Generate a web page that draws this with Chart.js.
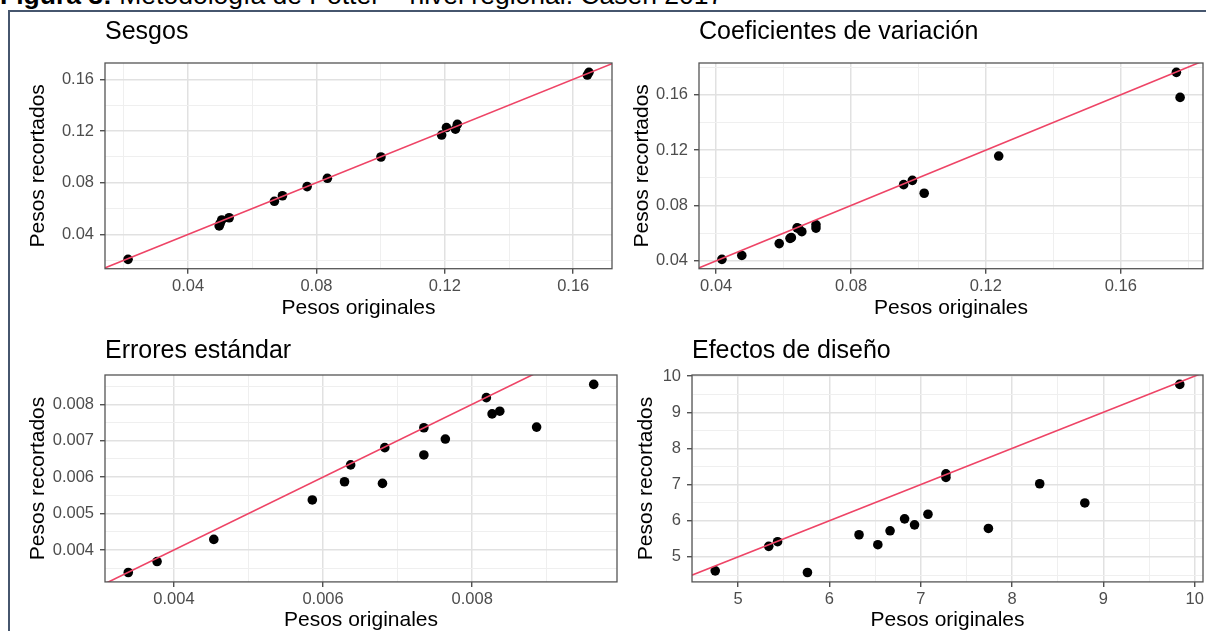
<!DOCTYPE html>
<html>
<head>
<meta charset="utf-8">
<script src="https://cdn.jsdelivr.net/npm/chart.js@4.4.1/dist/chart.umd.min.js"></script>
<style>
  html, body { margin: 0; padding: 0; background: #fff; overflow: hidden; width: 1206px; height: 631px; position: relative; }
  #caption { position: absolute; left: 0; top: -20px; font-family: "Liberation Sans", Arial, sans-serif; font-size: 26.5px; white-space: nowrap; color: #000; }
  #frame { position: absolute; left: 8px; top: 10px; width: 1220px; height: 640px; border-top: 2px solid #46566e; border-left: 2px solid #46566e; }
  canvas { position: absolute; }
</style>
</head>
<body>
<div id="caption"><b>Figura 3:</b> Metodología de Potter – nivel regional. Casen 2017</div>
<div id="frame"></div>
<canvas id="sesgos"></canvas>
<canvas id="cv"></canvas>
<canvas id="se"></canvas>
<canvas id="deff"></canvas>
<script>
// Datos: pesos originales (x) y pesos recortados (y) por region
const sesgosOriginal = [0.0213, 0.0497, 0.0500, 0.0505, 0.0528, 0.0669, 0.0694, 0.0771, 0.0834, 0.1001, 0.1190, 0.1205, 0.1233, 0.1239, 0.1644, 0.1649];
const sesgosRecortado = [0.0207, 0.0466, 0.0485, 0.0512, 0.0529, 0.0656, 0.0699, 0.0770, 0.0834, 0.0999, 0.1169, 0.1227, 0.1214, 0.1252, 0.1633, 0.1654];

const cvOriginal = [0.0417, 0.0476, 0.0587, 0.0619, 0.0623, 0.0640, 0.0645, 0.0654, 0.0696, 0.0696, 0.0956, 0.0982, 0.1017, 0.1238, 0.1765, 0.1776];
const cvRecortado = [0.0410, 0.0438, 0.0524, 0.0562, 0.0567, 0.0638, 0.0632, 0.0610, 0.0660, 0.0636, 0.0950, 0.0981, 0.0888, 0.1157, 0.1762, 0.1581];

const seOriginal = [0.003388, 0.003774, 0.004535, 0.005856, 0.006288, 0.006370, 0.006797, 0.006828, 0.007352, 0.007352, 0.007640, 0.008190, 0.008267, 0.008370, 0.008864, 0.009630];
const seRecortado = [0.003382, 0.003682, 0.004291, 0.005373, 0.005873, 0.006336, 0.005827, 0.006809, 0.007355, 0.006609, 0.007045, 0.008182, 0.007736, 0.007809, 0.007373, 0.008545];

const deffOriginal = [4.749, 5.335, 5.432, 5.759, 6.324, 6.530, 6.664, 6.823, 6.932, 7.079, 7.276, 7.276, 7.741, 8.303, 8.797, 9.837];
const deffRecortado = [4.615, 5.293, 5.421, 4.570, 5.614, 5.339, 5.723, 6.053, 5.888, 6.181, 7.299, 7.198, 5.788, 7.024, 6.493, 9.771];

// Pasos de los ticks: [mayor, menor]
const sesgosSteps = [0.04, 0.02];
const cvSteps = [0.04, 0.02];
const seXSteps = [0.002, 0.001];
const seYSteps = [0.001, 0.0005];
const deffSteps = [1, 0.5];

const panelTitles = ['Sesgos', 'Coeficientes de variación', 'Errores estándar', 'Efectos de diseño'];
const xAxisTitle = 'Pesos originales';
const yAxisTitle = 'Pesos recortados';

const FONT = '"Liberation Sans", Arial, sans-serif';
const TITLE_SIZE = 25;
const AXIS_TITLE_SIZE = 21;
const TICK_SIZE = 16.5;

// Rango con expansion del 5% como ggplot
function expand(values) {
    const lo = Math.min(...values);
    const hi = Math.max(...values);
    const pad = (hi - lo) * 0.05;
    return [lo - pad, hi + pad];
}

function isMultiple(v, step) {
    const r = v / step;
    return Math.abs(r - Math.round(r)) < 1e-6;
}

function axisOptions(range, steps, isX, fixedSize) {
    const major = steps[0];
    const minor = steps[1];
    const decimals = Math.max(0, -Math.floor(Math.log10(major) + 1e-9));
    const isMajor = ctx => ctx.tick && isMultiple(ctx.tick.value, major);
    return {
        type: 'linear',
        position: isX ? 'bottom' : 'left',
        min: range[0],
        max: range[1],
        afterFit: scale => {
            if (isX) scale.height = fixedSize; else scale.width = fixedSize;
        },
        ticks: {
            stepSize: minor,
            includeBounds: false,
            autoSkip: false,
            maxRotation: 0,
            minRotation: 0,
            padding: isX ? 3 : 6,
            color: '#4d4d4d',
            font: { family: FONT, size: TICK_SIZE },
            callback: v => isMultiple(v, major) ? v.toFixed(decimals) : ''
        },
        grid: {
            color: ctx => isMajor(ctx) ? '#e1e1e1' : '#efefef',
            lineWidth: ctx => isMajor(ctx) ? 1.5 : 1,
            tickColor: ctx => isMajor(ctx) ? '#333333' : 'rgba(0,0,0,0)',
            tickLength: 5,
            tickWidth: 1.2
        },
        border: { display: false },
        title: {
            display: true,
            text: isX ? xAxisTitle : yAxisTitle,
            color: '#000',
            font: { family: FONT, size: AXIS_TITLE_SIZE, lineHeight: 1.2 },
            padding: 0
        }
    };
}

// Borde del panel (theme_bw)
const panelBorder = {
    id: 'panelBorder',
    afterDraw(chart) {
        const { ctx, chartArea: a } = chart;
        ctx.save();
        ctx.strokeStyle = '#555555';
        ctx.lineWidth = 1.3;
        ctx.strokeRect(a.left, a.top, a.right - a.left, a.bottom - a.top);
        ctx.restore();
    }
};

function makePanel(id, spec, title, xs, ys, xSteps, ySteps) {
    const canvas = document.getElementById(id);
    const axisLh = AXIS_TITLE_SIZE * 1.2;
    const titleLh = TITLE_SIZE * 1.2;
    const cl = Math.round(spec.yTitleCX - axisLh / 2);
    const yW = spec.L - cl;
    const hX = spec.xTitleCY - spec.B + axisLh / 2;
    const padRight = 14;
    const width = spec.R - cl + padRight;
    const height = Math.round(spec.B + hX - spec.ct);
    canvas.width = width;
    canvas.height = height;
    canvas.style.left = cl + 'px';
    canvas.style.top = spec.ct + 'px';
    canvas.style.width = width + 'px';
    canvas.style.height = height + 'px';

    const titlePadTop = spec.titleCY - spec.ct - titleLh / 2;
    const titlePadBottom = spec.T - spec.ct - titlePadTop - titleLh;

    const xRange = expand(xs);
    const yRange = expand(ys);
    const lo = Math.min(xRange[0], yRange[0]);
    const hi = Math.max(xRange[1], yRange[1]);

    return new Chart(canvas, {
        type: 'scatter',
        data: {
            datasets: [{
                type: 'line',
                data: [{ x: lo, y: lo }, { x: hi, y: hi }],
                borderColor: '#ee4466',
                borderWidth: 1.6,
                pointRadius: 0,
                fill: false
            }, {
                data: xs.map((x, i) => ({ x: x, y: ys[i] })),
                backgroundColor: '#000',
                borderWidth: 0,
                pointRadius: 4.8
            }]
        },
        options: {
            responsive: false,
            animation: false,
            layout: { padding: { left: 0, right: padRight, top: 0, bottom: 0 } },
            plugins: {
                legend: { display: false },
                tooltip: { enabled: false },
                title: {
                    display: true,
                    text: title,
                    align: 'start',
                    fullSize: false,
                    color: '#000',
                    font: { family: FONT, size: TITLE_SIZE, weight: 'normal', lineHeight: 1.2 },
                    padding: { top: titlePadTop, bottom: titlePadBottom }
                }
            },
            scales: {
                x: axisOptions(xRange, xSteps, true, hX),
                y: axisOptions(yRange, ySteps, false, yW)
            }
        },
        plugins: [panelBorder]
    });
}

makePanel('sesgos', { L: 105, T: 63, R: 612, B: 269, titleCY: 32.5, yTitleCX: 38.5, xTitleCY: 308.7, ct: 14 },
    panelTitles[0], sesgosOriginal, sesgosRecortado, sesgosSteps, sesgosSteps);
makePanel('cv', { L: 699, T: 63, R: 1203, B: 269, titleCY: 32.5, yTitleCX: 642.5, xTitleCY: 308.7, ct: 14 },
    panelTitles[1], cvOriginal, cvRecortado, cvSteps, cvSteps);
makePanel('se', { L: 105, T: 375, R: 617, B: 582, titleCY: 351.3, yTitleCX: 38.5, xTitleCY: 620.5, ct: 322 },
    panelTitles[2], seOriginal, seRecortado, seXSteps, seYSteps);
makePanel('deff', { L: 692, T: 375, R: 1203, B: 582, titleCY: 351.3, yTitleCX: 647, xTitleCY: 620.5, ct: 322 },
    panelTitles[3], deffOriginal, deffRecortado, deffSteps, deffSteps);
</script>
</body>
</html>
